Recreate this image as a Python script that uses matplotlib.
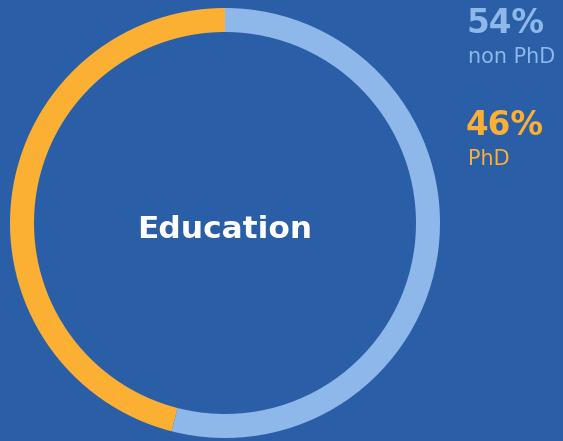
import matplotlib.pyplot as plt

# Education split
labels = ["non PhD", "PhD"]
shares = [54, 46]

bg     = "#2a5fa8"
blue   = "#8fb8ea"
orange = "#fbb034"
colors = [blue, orange]

W, H = 563, 441
fig = plt.figure(figsize=(W / 100, H / 100), dpi=100)
fig.patch.set_facecolor(bg)
ax = fig.add_axes([0, 0, 1, 1])
ax.set_facecolor(bg)

# Ring, clockwise from 12 o'clock
ax.pie(shares,
       colors        = colors,
       startangle    = 90,
       counterclock  = False,
       center        = (225, H - 223),
       radius        = 215,
       wedgeprops    = dict(width=24, linewidth=0),
       frame         = True)
ax.set_xlim(0, W)
ax.set_ylim(0, H)
ax.set_aspect("equal")
ax.axis("off")

ax.text(225, H - 238, "Education",
        ha="center", va="baseline", color="white",
        fontsize=22.5, fontweight="bold", family="DejaVu Sans")

# Legend on the right
for i, (lab, val, c) in enumerate(zip(labels, shares, colors)):
    base = 33 + i * 102
    ax.text(466, H - base, f"{val}%", ha="left", va="baseline", color=c,
            fontsize=23.5, fontweight="bold", family="DejaVu Sans")
    ax.text(468, H - base - 30, lab, ha="left", va="baseline", color=c,
            fontsize=15, family="DejaVu Sans")

fig.savefig("out.png", dpi=100, facecolor=bg)
